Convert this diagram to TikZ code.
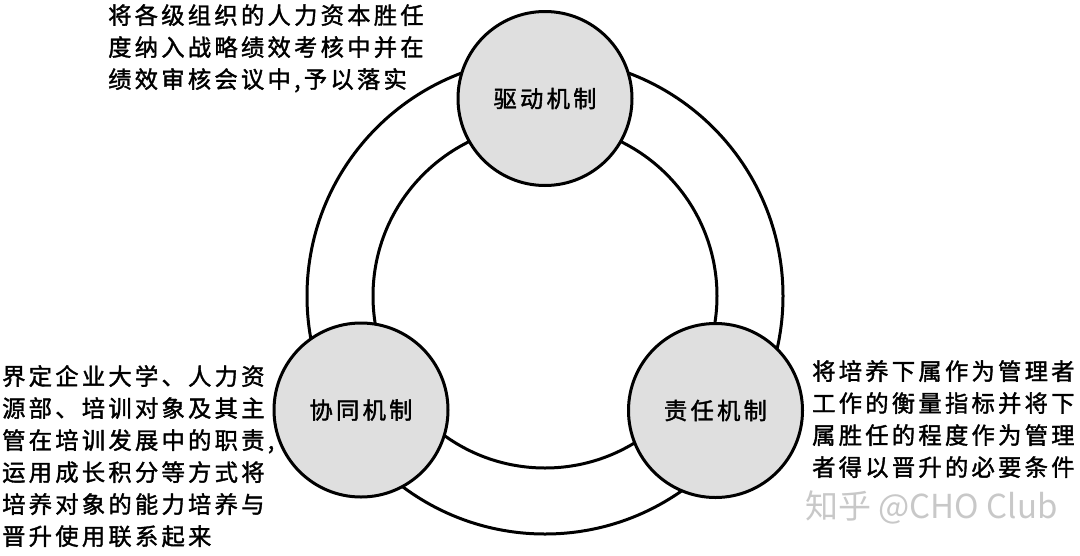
\documentclass[tikz,border=0pt]{standalone}
\usepackage{fontspec}
\setmainfont{Noto Sans CJK SC}
\newfontfamily\cjk[LetterSpace=14,FakeBold=1.6]{Noto Sans CJK SC}
\definecolor{nodegray}{RGB}{223,223,223}
\definecolor{markgray}{RGB}{200,200,200}
\begin{document}
\begin{tikzpicture}[x=1pt,y=-1pt,
  ring/.style={draw=black, line width=3pt},
  mech/.style={circle, draw=black, line width=3pt, fill=nodegray, minimum size=174pt, inner sep=0pt, font=\cjk\fontsize{23.3}{23}\selectfont},
  desc/.style={font=\cjk\fontsize{23.3}{32}\selectfont, align=left, inner sep=0pt, anchor=north west},
  wmark/.style={font=\fontsize{33}{33}\selectfont, text=markgray, inner sep=0pt, anchor=west}]
\useasboundingbox (0,0) rectangle (1080,555);
\coordinate (c) at (545,296);
\draw[ring] (c) circle[radius=238pt];
\draw[ring] (c) circle[radius=172pt];
\node[mech] (drive) at (545,98.5) {驱动机制};
\node[mech] (coop) at (361,410) {协同机制};
\node[mech] (resp) at (715.5,410.5) {责任机制};
\node[desc] (tdesc) at (108,4) {将各级组织的人力资本胜任\\度纳入战略绩效考核中并在\\绩效审核会议中,予以落实};
\node[desc] (ldesc) at (2,365) {界定企业大学、人力资\\源部、培训对象及其主\\管在培训发展中的职责,\\运用成长积分等方式将\\培养对象的能力培养与\\晋升使用联系起来};
\node[desc] (rdesc) at (812,360) {将培养下属作为管理者\\工作的衡量指标并将下\\属胜任的程度作为管理\\者得以晋升的必要条件};
\node[wmark] (wm) at (805,507) {知乎 @CHO Club};
\end{tikzpicture}
\end{document}
